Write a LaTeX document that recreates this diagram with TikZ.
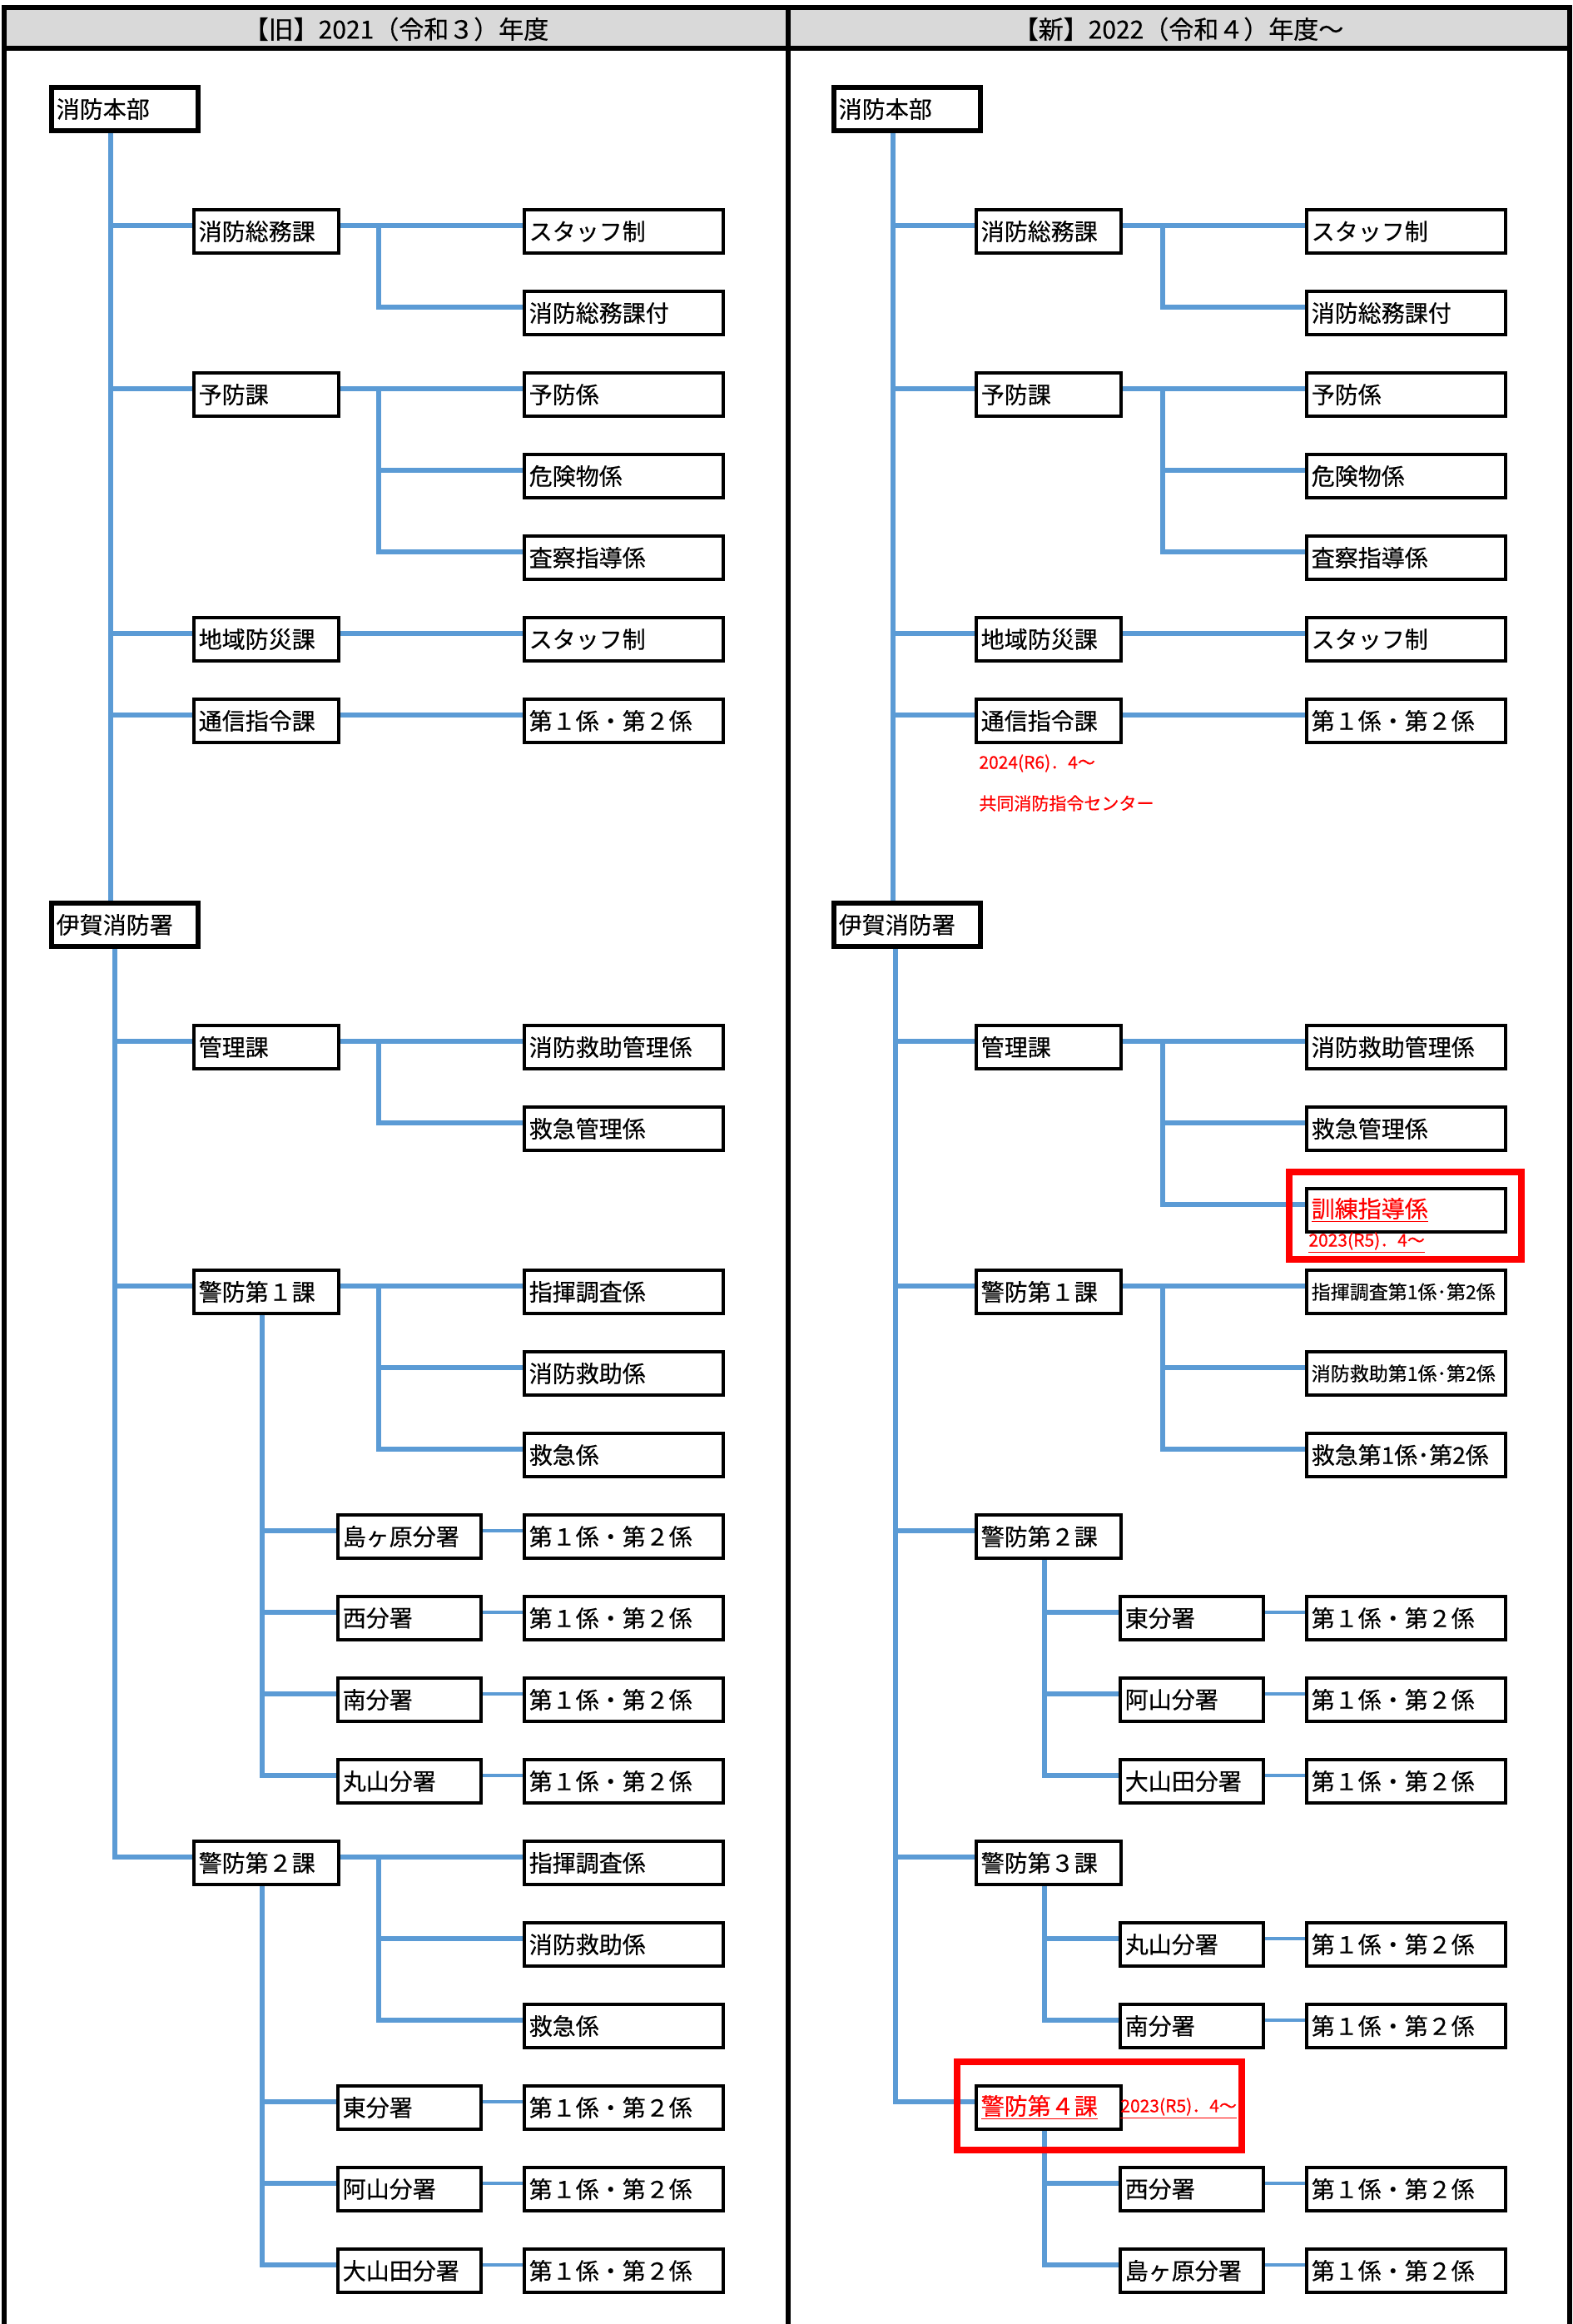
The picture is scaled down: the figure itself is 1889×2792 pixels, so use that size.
\documentclass[tikz,border=0pt]{standalone}
\usepackage{fontspec}
\setmainfont{Noto Sans CJK JP}[FakeBold=0.4]
\usetikzlibrary{calc}
\pgfdeclarelayer{back}
\pgfdeclarelayer{bg}
\pgfsetlayers{back,bg,main}
\definecolor{lineblue}{RGB}{91,155,213}
\definecolor{headgray}{RGB}{217,217,217}
\tikzset{
  frame/.style={draw=black, line width=3pt},
  head/.style={inner sep=0pt, font=\fontsize{15}{18}\selectfont},
  base/.style={draw=black, fill=white, anchor=west, minimum height=26pt,
    inner xsep=3pt, inner ysep=0pt, align=left, font=\fontsize{14}{16}\selectfont},
  topbox/.style={base, line width=2.75pt, text width=82pt},
  kabox/.style={base, line width=1.75pt, text width=81pt},
  bunbox/.style={base, line width=1.75pt, text width=80pt},
  kakaribox/.style={base, line width=1.75pt, text width=113.5pt},
  smalltxt/.style={font=\fontsize{11.5}{13}\selectfont},
  conn/.style={draw=lineblue, line width=2.6pt, transform canvas={yshift=3.5pt}},
  thinconn/.style={draw=lineblue, line width=2pt, transform canvas={yshift=3.5pt}},
  redlabel/.style={anchor=west, inner sep=0pt, text=red, font=\fontsize{10.5}{12}\selectfont},
  redframe/.style={draw=red, line width=4pt},
}
\begin{document}
\begin{tikzpicture}[x=0.5pt,y=-0.5pt]
\useasboundingbox (0,0) rectangle (1889,2792);
\begin{pgfonlayer}{back}
\fill[white] (0,0) rectangle (1889,2792);
\fill[headgray] (5,9) rectangle (1886,58);
\end{pgfonlayer}
\draw[frame] (5,2792) -- (5,9) -- (1886,9) -- (1886,2792);
\draw[frame] (5,58) -- (1886,58);
\draw[frame] (947,9) -- (947,2792);
\node[head] (hL) at (476,35) {【旧】2021（令和３）年度};
\node[head] (hR) at (1416,35) {【新】2022（令和４）年度～};

% ---------------- LEFT COLUMN ----------------
\node[topbox] (hqL) at (59,131) {消防本部};
\node[kabox] (a1L) at (231,278) {消防総務課};
\node[kakaribox] (c1L) at (628,278) {スタッフ制};
\node[kakaribox] (c2L) at (628,376) {消防総務課付};
\node[kabox] (a2L) at (231,474) {予防課};
\node[kakaribox] (c3L) at (628,474) {予防係};
\node[kakaribox] (c4L) at (628,572) {危険物係};
\node[kakaribox] (c5L) at (628,670) {査察指導係};
\node[kabox] (a3L) at (231,768) {地域防災課};
\node[kakaribox] (c6L) at (628,768) {スタッフ制};
\node[kabox] (a4L) at (231,866) {通信指令課};
\node[kakaribox] (c7L) at (628,866) {第１係・第２係};
\node[topbox] (fsL) at (59,1111) {伊賀消防署};
\node[kabox] (a5L) at (231,1258) {管理課};
\node[kakaribox] (c8L) at (628,1258) {消防救助管理係};
\node[kakaribox] (c9L) at (628,1356) {救急管理係};
\node[kabox] (a6L) at (231,1552) {警防第１課};
\node[kakaribox] (c10L) at (628,1552) {指揮調査係};
\node[kakaribox] (c11L) at (628,1650) {消防救助係};
\node[kakaribox] (c12L) at (628,1748) {救急係};
\node[bunbox] (b1L) at (404,1846) {島ヶ原分署};
\node[kakaribox] (d1L) at (628,1846) {第１係・第２係};
\node[bunbox] (b2L) at (404,1944) {西分署};
\node[kakaribox] (d2L) at (628,1944) {第１係・第２係};
\node[bunbox] (b3L) at (404,2042) {南分署};
\node[kakaribox] (d3L) at (628,2042) {第１係・第２係};
\node[bunbox] (b4L) at (404,2140) {丸山分署};
\node[kakaribox] (d4L) at (628,2140) {第１係・第２係};
\node[kabox] (a7L) at (231,2238) {警防第２課};
\node[kakaribox] (c13L) at (628,2238) {指揮調査係};
\node[kakaribox] (c14L) at (628,2336) {消防救助係};
\node[kakaribox] (c15L) at (628,2434) {救急係};
\node[bunbox] (b5L) at (404,2532) {東分署};
\node[kakaribox] (d5L) at (628,2532) {第１係・第２係};
\node[bunbox] (b6L) at (404,2630) {阿山分署};
\node[kakaribox] (d6L) at (628,2630) {第１係・第２係};
\node[bunbox] (b7L) at (404,2728) {大山田分署};
\node[kakaribox] (d7L) at (628,2728) {第１係・第２係};

% ---------------- RIGHT COLUMN ----------------
\node[topbox] (hqR) at (999,131) {消防本部};
\node[kabox] (a1R) at (1171,278) {消防総務課};
\node[kakaribox] (c1R) at (1568,278) {スタッフ制};
\node[kakaribox] (c2R) at (1568,376) {消防総務課付};
\node[kabox] (a2R) at (1171,474) {予防課};
\node[kakaribox] (c3R) at (1568,474) {予防係};
\node[kakaribox] (c4R) at (1568,572) {危険物係};
\node[kakaribox] (c5R) at (1568,670) {査察指導係};
\node[kabox] (a3R) at (1171,768) {地域防災課};
\node[kakaribox] (c6R) at (1568,768) {スタッフ制};
\node[kabox] (a4R) at (1171,866) {通信指令課};
\node[kakaribox] (c7R) at (1568,866) {第１係・第２係};
\node[redlabel] (n1) at (1176,917) {2024(R6)．4～};
\node[redlabel] (n2) at (1176,965) {共同消防指令センター};
\node[topbox] (fsR) at (999,1111) {伊賀消防署};
\node[kabox] (a5R) at (1171,1258) {管理課};
\node[kakaribox] (c8R) at (1568,1258) {消防救助管理係};
\node[kakaribox] (c9R) at (1568,1356) {救急管理係};
\node[kakaribox, text=red] (c16R) at (1568,1454) {\underline{訓練指導係}};
\node[redlabel] (n3) at (1572,1493) {\underline{2023(R5)．4～}};
\node[kabox] (a6R) at (1171,1552) {警防第１課};
\node[kakaribox, smalltxt] (c10R) at (1568,1552) {指揮調査第1係･第2係};
\node[kakaribox, smalltxt] (c11R) at (1568,1650) {消防救助第1係･第2係};
\node[kakaribox] (c12R) at (1568,1748) {救急第1係･第2係};
\node[kabox] (a7R) at (1171,1846) {警防第２課};
\node[bunbox] (b5R) at (1344,1944) {東分署};
\node[kakaribox] (d5R) at (1568,1944) {第１係・第２係};
\node[bunbox] (b6R) at (1344,2042) {阿山分署};
\node[kakaribox] (d6R) at (1568,2042) {第１係・第２係};
\node[bunbox] (b7R) at (1344,2140) {大山田分署};
\node[kakaribox] (d7R) at (1568,2140) {第１係・第２係};
\node[kabox] (a8R) at (1171,2238) {警防第３課};
\node[bunbox] (b4R) at (1344,2336) {丸山分署};
\node[kakaribox] (d4R) at (1568,2336) {第１係・第２係};
\node[bunbox] (b3R) at (1344,2434) {南分署};
\node[kakaribox] (d3R) at (1568,2434) {第１係・第２係};
\node[kabox, text=red] (a9R) at (1171,2532) {\underline{警防第４課}};
\node[redlabel] (n4) at (1346,2533) {\underline{2023(R5)．4～}};
\node[bunbox] (b2R) at (1344,2630) {西分署};
\node[kakaribox] (d2R) at (1568,2630) {第１係・第２係};
\node[bunbox] (b1R) at (1344,2728) {島ヶ原分署};
\node[kakaribox] (d1R) at (1568,2728) {第１係・第２係};

\draw[redframe] (1549,1408) rectangle (1828,1513);
\draw[redframe] (1150,2477) rectangle (1492,2583);

% ---------------- CONNECTORS ----------------
\coordinate (tLa) at (133,0);
\coordinate (tLb) at (138,0);
\coordinate (bL) at (455,0);
\coordinate (sL) at (315,0);
\coordinate (tRa) at (1073,0);
\coordinate (tRb) at (1076,0);
\coordinate (bR) at (1397,0);
\coordinate (sR) at (1255,0);

\begin{pgfonlayer}{bg}
% left trunk
\draw[conn] (hqL -| tLa) -- (fsL -| tLa);
\draw[conn] (fsL -| tLb) -- (tLb |- a7L) -- (a7L.west);
\foreach \n in {a1L,a2L,a3L,a4L} \draw[conn] (tLa |- \n) -- (\n.west);
\foreach \n in {a5L,a6L} \draw[conn] (tLb |- \n) -- (\n.west);
% left sections
\draw[conn] (a1L.east) -- (c1L.west);
\draw[conn] (bL |- a1L) -- (bL |- c2L) -- (c2L.west);
\draw[conn] (a2L.east) -- (c3L.west);
\draw[conn] (bL |- a2L) -- (bL |- c5L) -- (c5L.west);
\draw[conn] (bL |- c4L) -- (c4L.west);
\draw[conn] (a3L.east) -- (c6L.west);
\draw[conn] (a4L.east) -- (c7L.west);
\draw[conn] (a5L.east) -- (c8L.west);
\draw[conn] (bL |- a5L) -- (bL |- c9L) -- (c9L.west);
\draw[conn] (a6L.east) -- (c10L.west);
\draw[conn] (bL |- a6L) -- (bL |- c12L) -- (c12L.west);
\draw[conn] (bL |- c11L) -- (c11L.west);
\draw[conn] (a6L -| sL) -- (sL |- b4L) -- (b4L.west);
\foreach \n in {b1L,b2L,b3L} \draw[conn] (sL |- \n) -- (\n.west);
\draw[conn] (a7L.east) -- (c13L.west);
\draw[conn] (bL |- a7L) -- (bL |- c15L) -- (c15L.west);
\draw[conn] (bL |- c14L) -- (c14L.west);
\draw[conn] (a7L -| sL) -- (sL |- b7L) -- (b7L.west);
\foreach \n in {b5L,b6L} \draw[conn] (sL |- \n) -- (\n.west);
\foreach \i in {1,...,7} \draw[thinconn] (b\i L.east) -- (d\i L.west);

% right trunk
\draw[conn] (hqR -| tRa) -- (fsR -| tRa);
\draw[conn] (fsR -| tRb) -- (tRb |- a9R) -- (a9R.west);
\foreach \n in {a1R,a2R,a3R,a4R} \draw[conn] (tRa |- \n) -- (\n.west);
\foreach \n in {a5R,a6R,a7R,a8R} \draw[conn] (tRb |- \n) -- (\n.west);
% right sections
\draw[conn] (a1R.east) -- (c1R.west);
\draw[conn] (bR |- a1R) -- (bR |- c2R) -- (c2R.west);
\draw[conn] (a2R.east) -- (c3R.west);
\draw[conn] (bR |- a2R) -- (bR |- c5R) -- (c5R.west);
\draw[conn] (bR |- c4R) -- (c4R.west);
\draw[conn] (a3R.east) -- (c6R.west);
\draw[conn] (a4R.east) -- (c7R.west);
\draw[conn] (a5R.east) -- (c8R.west);
\draw[conn] (bR |- a5R) -- (bR |- c16R) -- (c16R.west);
\draw[conn] (bR |- c9R) -- (c9R.west);
\draw[conn] (a6R.east) -- (c10R.west);
\draw[conn] (bR |- a6R) -- (bR |- c12R) -- (c12R.west);
\draw[conn] (bR |- c11R) -- (c11R.west);
\draw[conn] (a7R -| sR) -- (sR |- b7R) -- (b7R.west);
\foreach \n in {b5R,b6R} \draw[conn] (sR |- \n) -- (\n.west);
\draw[conn] (a8R -| sR) -- (sR |- b3R) -- (b3R.west);
\draw[conn] (sR |- b4R) -- (b4R.west);
\draw[conn] (a9R -| sR) -- (sR |- b1R) -- (b1R.west);
\draw[conn] (sR |- b2R) -- (b2R.west);
\foreach \i in {1,...,7} \draw[thinconn] (b\i R.east) -- (d\i R.west);
\end{pgfonlayer}
\end{tikzpicture}
\end{document}
